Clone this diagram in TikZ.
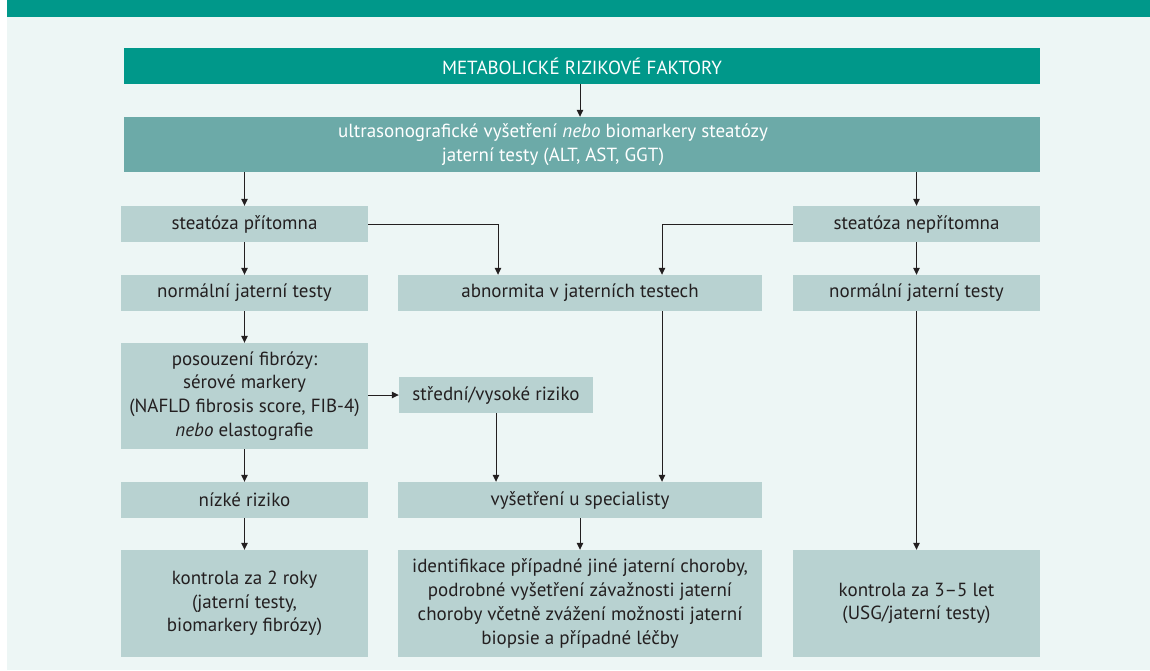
\documentclass[tikz,border=0pt]{standalone}
\usepackage{fontspec}
\setmainfont{PT Sans}
\usetikzlibrary{arrows.meta,calc}
\definecolor{band}{RGB}{0,152,138}
\definecolor{midteal}{RGB}{108,170,168}
\definecolor{boxfill}{RGB}{184,210,209}
\definecolor{bgcol}{RGB}{237,246,245}
\definecolor{ink}{RGB}{35,31,32}
\begin{document}
\begin{tikzpicture}[x=1pt,y=-1pt,
  box/.style={fill=boxfill, text=ink, inner sep=0pt, align=center,
    font=\fontsize{19}{23.7}\selectfont},
  topbox/.style={box, text=white},
  conn/.style={draw=ink, line width=1pt, -{Triangle[length=7pt,width=6.5pt]}},
]
\useasboundingbox (0,0) rectangle (1150,670);
\fill[white] (0,0) rectangle (1150,670);
\fill[bgcol] (7,17) rectangle (1150,670);
\fill[band] (7,0) rectangle (1150,17);

\node[topbox, fill=band, minimum width=916pt, minimum height=36pt] (metab) at (582,66)
  {METABOLICKÉ RIZIKOVÉ FAKTORY};
\node[topbox, fill=midteal, minimum width=916pt, minimum height=55pt] (ultra) at (582,144.5)
  {ultrasonografické vyšetření \textit{nebo} biomarkery steatózy\hspace*{58pt}\\
   jaterní testy (ALT, AST, GGT)\hspace*{58pt}};

\node[box, minimum width=247pt, minimum height=36pt] (sp) at (244.5,224) {steatóza přítomna};
\node[box, minimum width=247pt, minimum height=36pt] (snp) at (916.5,224) {steatóza nepřítomna};

\node[box, minimum width=247pt, minimum height=36pt] (nl) at (244.5,293) {normální jaterní testy};
\node[box, minimum width=364pt, minimum height=36pt] (ab) at (580,293) {abnormita v jaterních testech};
\node[box, minimum width=247pt, minimum height=36pt] (nr) at (916.5,293) {normální jaterní testy};

\node[box, minimum width=247pt, minimum height=106pt] (pos) at (244.5,396)
  {posouzení fibrózy:\\ sérové markery\\ (NAFLD fibrosis score, FIB-4)\\ \textit{nebo} elastografie};
\node[box, minimum width=194pt, minimum height=36pt] (st) at (496,395) {střední/vysoké riziko};

\node[box, minimum width=247pt, minimum height=36pt] (nz) at (244.5,500) {nízké riziko};
\node[box, minimum width=364pt, minimum height=36pt] (vs) at (580,500) {vyšetření u specialisty};

\node[box, minimum width=247pt, minimum height=107pt] (k2) at (244.5,603.5)
  {kontrola za 2 roky\\ (jaterní testy,\\ biomarkery fibrózy)};
\node[box, minimum width=364pt, minimum height=107pt] (id) at (580,603.5)
  {identifikace případné jiné jaterní choroby,\\ podrobné vyšetření závažnosti jaterní\\
   choroby včetně zvážení možnosti jaterní\\ biopsie a případné léčby};
\node[box, minimum width=247pt, minimum height=107pt] (k35) at (916.5,603.5)
  {kontrola za 3–5 let\\ (USG/jaterní testy)};

\draw[conn] (metab.south -| 580,0) -- (ultra.north -| 580,0);
\draw[conn] (sp.north |- ultra.south) -- (sp.north);
\draw[conn] (snp.north |- ultra.south) -- (snp.north);
\draw[conn] (sp) -- (nl);
\draw[conn] (snp) -- (nr);
\draw[conn] (sp.east) -| ($(ab.north)+(-82,0)$);
\draw[conn] (snp.west) -| ($(ab.north)+(82,0)$);
\draw[conn] (nl) -- (pos);
\draw[conn] (pos.east |- st.west) -- (st.west);
\draw[conn] (st.south) -- (st.south |- vs.north);
\draw[conn] ($(ab.south)+(82,0)$) -- ($(vs.north)+(82,0)$);
\draw[conn] (pos) -- (nz);
\draw[conn] (nz) -- (k2);
\draw[conn] (vs) -- (id);
\draw[conn] (nr) -- (k35);
\end{tikzpicture}
\end{document}
